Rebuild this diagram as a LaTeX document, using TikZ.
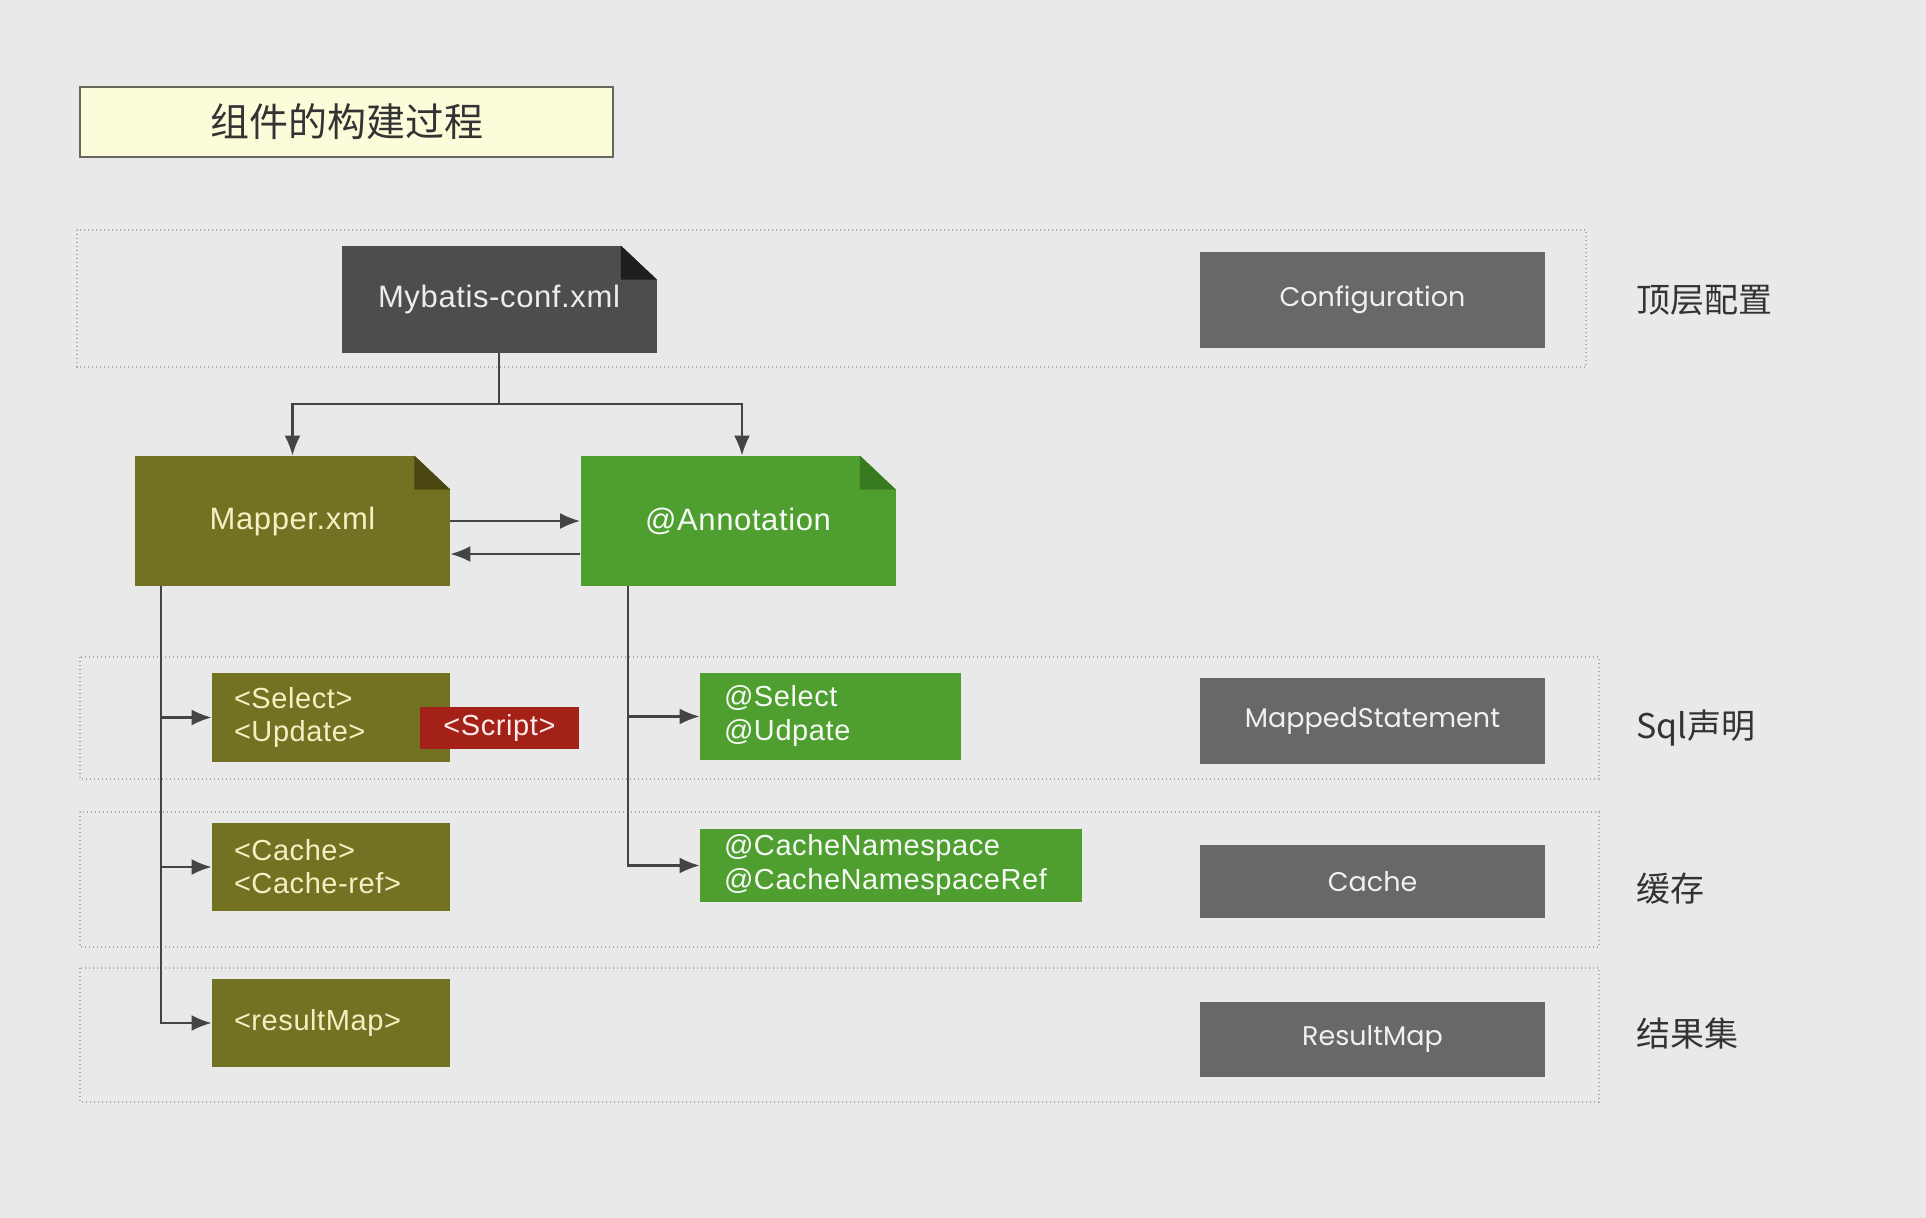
\documentclass[tikz,border=0pt]{standalone}
\usepackage{fontspec}
\setmainfont[LetterSpace=2]{Liberation Sans}
\newfontfamily\cjk{Noto Sans CJK SC}
\newfontfamily\geo{Poppins}
\usetikzlibrary{arrows.meta}

\definecolor{bgcol}{HTML}{E9E9E9}
\definecolor{titlefill}{HTML}{FDFCDA}
\definecolor{titleline}{HTML}{66665A}
\definecolor{confcol}{HTML}{4D4D4D}
\definecolor{confdark}{HTML}{1E1E1E}
\definecolor{graycol}{HTML}{686868}
\definecolor{olive}{HTML}{737223}
\definecolor{olivedark}{HTML}{4A4712}
\definecolor{olivefg}{HTML}{F4F0C4}
\definecolor{green}{HTML}{4F9E30}
\definecolor{greendark}{HTML}{387A20}
\definecolor{scriptred}{HTML}{A32117}
\definecolor{linecol}{HTML}{444444}
\definecolor{bandcol}{HTML}{AAAAAA}

\tikzstyle{band} = [draw=bandcol, line width=0.7pt, dash pattern=on 0.7pt off 1.3pt]
\tikzstyle{titlebox} = [rectangle, fill=titlefill, draw=titleline, line width=0.8pt, minimum width=266.5pt, minimum height=35pt, font=\cjk\fontsize{19.5}{22}\selectfont, text=black!80]
\tikzstyle{docnode} = [rectangle, minimum width=157.5pt, inner sep=0pt, font=\fontsize{15.5}{18}\selectfont]
\tikzstyle{grayobj} = [rectangle, fill=graycol, text=white!94!black, minimum width=172.5pt, inner sep=0pt, font=\geo\fontsize{13.5}{16}\selectfont]
\tikzstyle{tagbox} = [rectangle, fill=olive, text=olivefg, align=left, inner ysep=0pt, font=\fontsize{14.5}{16.5}\selectfont]
\tikzstyle{annbox} = [rectangle, fill=green, text=white!95!green, align=left, inner ysep=0pt, font=\fontsize{14.5}{17}\selectfont]
\tikzstyle{layer} = [anchor=west, font=\cjk\fontsize{17}{20}\selectfont, text=black!80]
\tikzstyle{wire} = [line width=1.1pt, draw=linecol]
\tikzstyle{link} = [wire, -{Latex[length=10pt,width=8pt]}]

\newcommand{\foldcorner}[2]{%
  \fill[bgcol] (#1.north east) -- ++(-18pt,0) -- ++(18pt,-17pt) -- cycle;
  \fill[#2] ([xshift=-18pt]#1.north east) -- ++(0,-17pt) -- ++(18pt,0) -- cycle;}

\begin{document}
\begin{tikzpicture}[x=0.5pt, y=-0.5pt]
  \fill[bgcol] (0,0) rectangle (1926,1218);
  \useasboundingbox (0,0) rectangle (1926,1218);

  % layers
  \draw[band] (77,230) rectangle (1586,367);
  \draw[band] (80,657) rectangle (1599,779);
  \draw[band] (80,812) rectangle (1599,947);
  \draw[band] (80,968) rectangle (1599,1102);

  \node (title) [titlebox] at (346.5,122) {组件的构建过程};

  % top level
  \node (conf) [docnode, fill=confcol, text=white!93!black, minimum height=53.5pt] at (499,299.5) {Mybatis-conf.xml};
  \foldcorner{conf}{confdark}
  \node (configuration) [grayobj, minimum height=48pt] at (1372.5,300) {Configuration};
  \node (toplabel) [layer] at (1629,300) {顶层配置};

  % sources
  \node (mapper) [docnode, fill=olive, text=olivefg, minimum height=65pt] at (292.5,521) {Mapper.xml};
  \foldcorner{mapper}{olivedark}
  \node (annot) [docnode, fill=green, text=white!95!green, minimum height=65pt] at (738,521) {@Annotation};
  \foldcorner{annot}{greendark}

  % sql statements
  \node (select) [tagbox, text width=97pt, inner xsep=11pt, minimum height=44.5pt] at (331,717.5) {<Select>\\<Update>};
  \node (script) [rectangle, fill=scriptred, text=white!92!red, minimum width=79.5pt, minimum height=21pt, inner sep=0pt, font=\fontsize{14.5}{16}\selectfont] at (499.5,728) {<Script>};
  \node (atselect) [annbox, text width=106.5pt, inner xsep=12pt, minimum height=43.5pt] at (830.5,716.5) {@Select\\@Udpate};
  \node (mapped) [grayobj, minimum height=43pt] at (1372.5,721) {MappedStatement};
  \node (sqllabel) [layer] at (1629,728) {Sql声明};

  % cache
  \node (cachexml) [tagbox, text width=97pt, inner xsep=11pt, minimum height=44pt] at (331,867) {<Cache>\\<Cache-ref>};
  \node (cachens) [annbox, text width=167pt, inner xsep=12pt, minimum height=36.5pt] at (891,865.5) {@CacheNamespace\\@CacheNamespaceRef};
  \node (cache) [grayobj, minimum height=36.5pt] at (1372.5,881.5) {Cache};
  \node (cachelabel) [layer] at (1629,889) {缓存};

  % result sets
  \node (resultmap) [tagbox, text width=97pt, inner xsep=11pt, minimum height=44pt] at (331,1023) {<resultMap>};
  \node (resultobj) [grayobj, minimum height=37.5pt] at (1372.5,1039.5) {ResultMap};
  \node (resultlabel) [layer] at (1629,1034) {结果集};

  % connectors
  \path (conf.south) ++(0,51) coordinate (fork);
  \draw[wire] (conf.south) -- (fork);
  \draw[link] (fork) -| (mapper.north);
  \draw[link] (fork) -| ([xshift=2pt]annot.north);
  \draw[link] (mapper.east) -- (annot.west);
  \draw[link] ([yshift=-16.5pt]annot.west) -- ([yshift=-16.5pt]mapper.east);

  \coordinate (mtrunk) at ([xshift=13pt]mapper.south west);
  \draw[link] (mtrunk) |- (select.west);
  \draw[link] (mtrunk) |- (cachexml.west);
  \draw[link] (mtrunk) |- (resultmap.west);

  \coordinate (atrunk) at ([xshift=24pt]annot.south west);
  \draw[link] (atrunk) |- (atselect.west);
  \draw[link] (atrunk) |- (cachens.west);
\end{tikzpicture}
\end{document}
